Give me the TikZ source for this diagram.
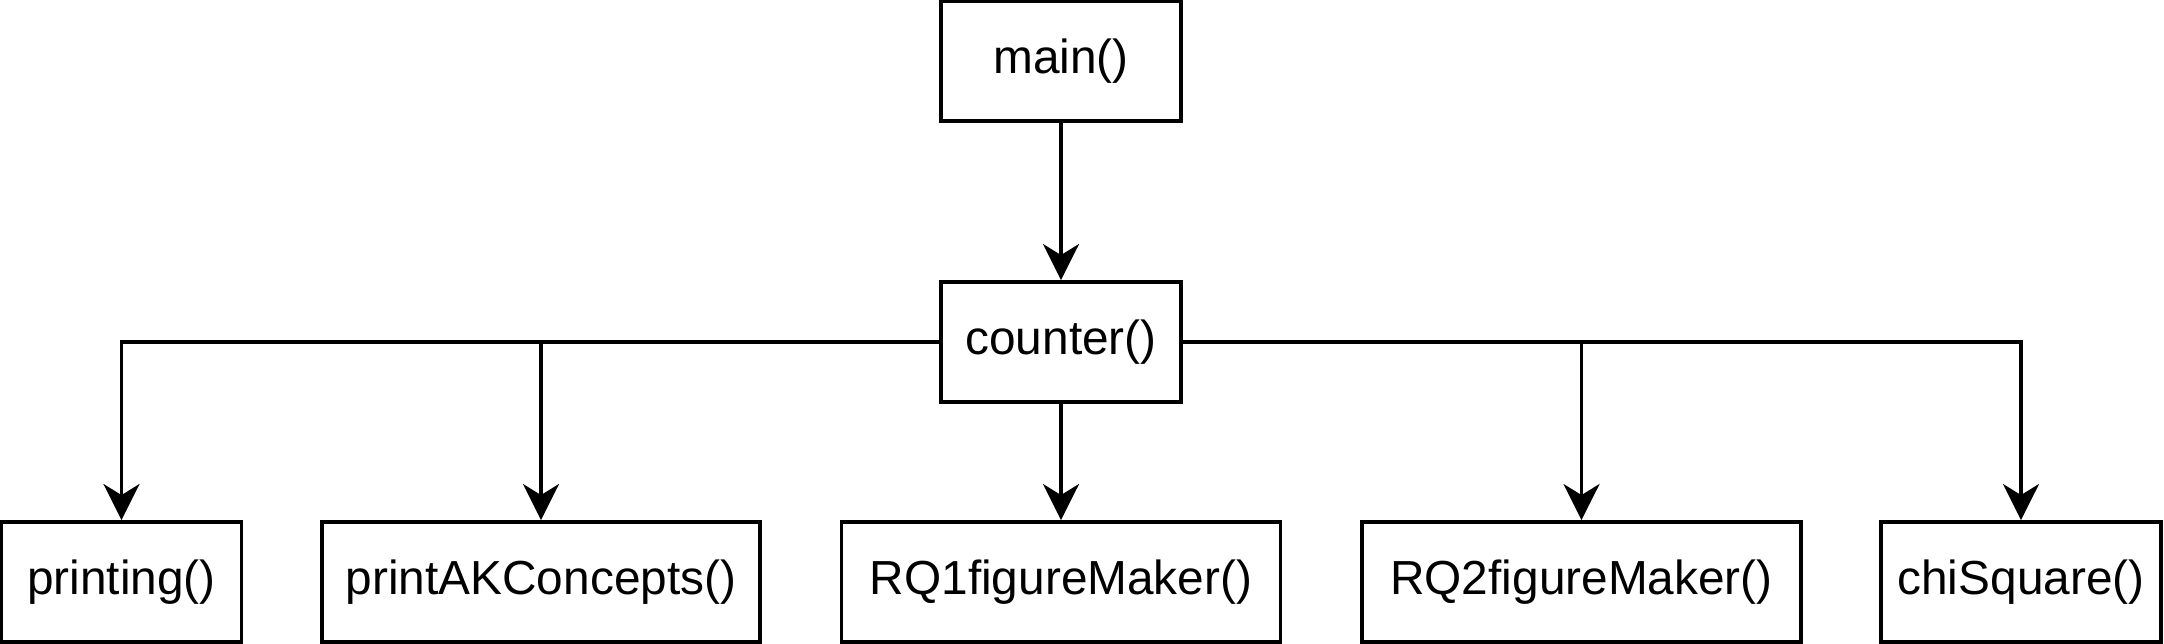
\documentclass[tikz,border=0pt]{standalone}
\usepackage{fontspec}
\setmainfont{Liberation Sans}
\usetikzlibrary{arrows.meta}
\begin{document}
\begin{tikzpicture}[>={Stealth[length=3.6mm,width=3.6mm,inset=1.1mm]},
  line width=1.1pt,
  fn/.style={draw,rectangle,minimum height=1.2cm,inner sep=0pt,font=\fontsize{13.6}{16}\selectfont}]
\useasboundingbox (0,0) rectangle (21.64,6.44);
% top
\node[fn,minimum width=2.4cm] (main) at (10.61,5.83) {main()};
\node[fn,minimum width=2.4cm] (counter) at (10.61,3.02) {counter()};
% called functions
\node[fn,minimum width=2.4cm] (printing) at (1.215,0.62) {printing()};
\node[fn,minimum width=4.38cm] (printak) at (5.41,0.62) {printAKConcepts()};
\node[fn,minimum width=4.39cm] (rqone) at (10.61,0.62) {RQ1figureMaker()};
\node[fn,minimum width=4.39cm] (rqtwo) at (15.815,0.62) {RQ2figureMaker()};
\node[fn,minimum width=2.8cm] (chisq) at (20.21,0.62) {chiSquare()};
\draw[->] (main) -- (counter);
\draw[->] (counter.west) -| (printing.north);
\draw[->] (counter.west) -| (printak.north);
\draw[->] (counter) -- (rqone);
\draw[->] (counter.east) -| (rqtwo.north);
\draw[->] (counter.east) -| (chisq.north);
\end{tikzpicture}
\end{document}
